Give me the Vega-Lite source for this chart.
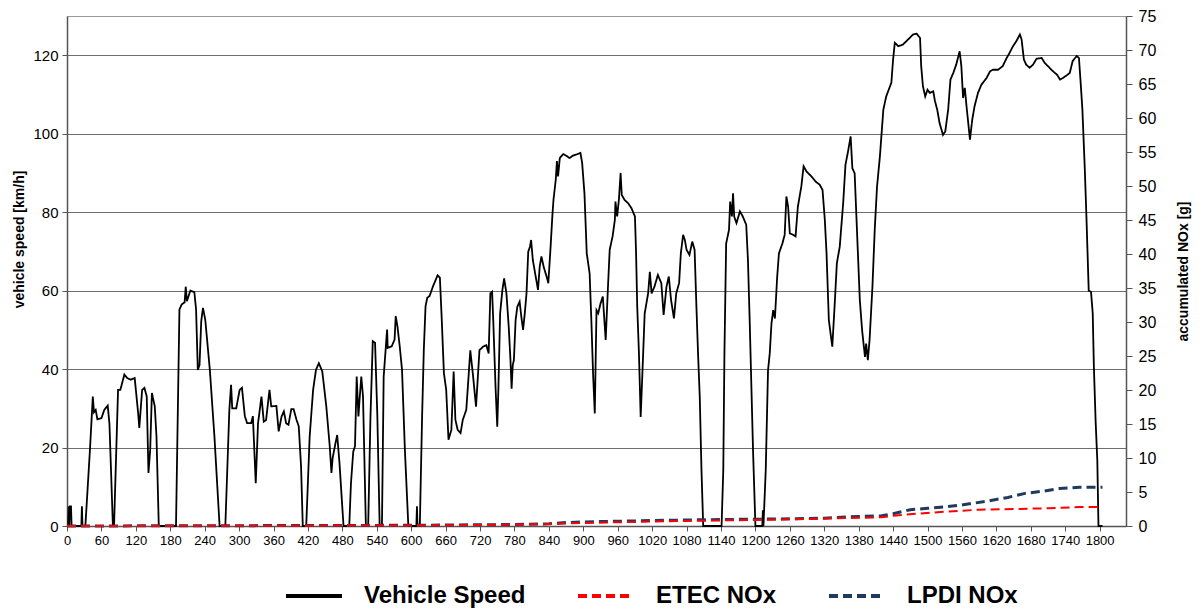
{
  "$schema": "https://vega.github.io/schema/vega-lite/v6.json",
  "autosize": "none",
  "width": 1059,
  "height": 510,
  "padding": {"left": 67, "top": 16, "right": 76, "bottom": 87},
  "background": "white",
  "config": {
    "font": "Liberation Sans",
    "view": {"stroke": "#999999", "strokeWidth": 1},
    "axis": {"labelFont": "Liberation Sans", "titleFont": "Liberation Sans", "labelColor": "#000000", "titleColor": "#000000", "domainColor": "#555555", "tickColor": "#555555"}
  },
  "datasets": {
    "speed": [
      {"t":0,"v":0,"series":"Vehicle Speed"},{"t":2,"v":0,"series":"Vehicle Speed"},{"t":3,"v":5,"series":"Vehicle Speed"},{"t":4,"v":0,"series":"Vehicle Speed"},{"t":5,"v":5,"series":"Vehicle Speed"},{"t":7,"v":5,"series":"Vehicle Speed"},{"t":8,"v":0,"series":"Vehicle Speed"},{"t":25,"v":0,"series":"Vehicle Speed"},{"t":26,"v":5,"series":"Vehicle Speed"},{"t":27,"v":0,"series":"Vehicle Speed"},
      {"t":32,"v":0,"series":"Vehicle Speed"},{"t":40,"v":19.4,"series":"Vehicle Speed"},{"t":45,"v":33,"series":"Vehicle Speed"},{"t":47,"v":29,"series":"Vehicle Speed"},{"t":50,"v":29.6,"series":"Vehicle Speed"},{"t":53,"v":27.2,"series":"Vehicle Speed"},{"t":60,"v":27.5,"series":"Vehicle Speed"},{"t":65,"v":29.6,"series":"Vehicle Speed"},{"t":71,"v":30.7,"series":"Vehicle Speed"},{"t":74,"v":26,"series":"Vehicle Speed"},{"t":80,"v":0,"series":"Vehicle Speed"},
      {"t":82,"v":0,"series":"Vehicle Speed"},{"t":89,"v":34.7,"series":"Vehicle Speed"},{"t":93,"v":34.7,"series":"Vehicle Speed"},{"t":100,"v":38.6,"series":"Vehicle Speed"},{"t":105,"v":37.7,"series":"Vehicle Speed"},{"t":111,"v":37.3,"series":"Vehicle Speed"},{"t":118,"v":37.7,"series":"Vehicle Speed"},{"t":124,"v":28.8,"series":"Vehicle Speed"},{"t":126,"v":25,"series":"Vehicle Speed"},{"t":131,"v":34.7,"series":"Vehicle Speed"},{"t":135,"v":35.2,"series":"Vehicle Speed"},{"t":139,"v":33,"series":"Vehicle Speed"},{"t":142,"v":13.5,"series":"Vehicle Speed"},{"t":145,"v":19.4,"series":"Vehicle Speed"},{"t":148,"v":33.9,"series":"Vehicle Speed"},{"t":153,"v":30.5,"series":"Vehicle Speed"},{"t":156,"v":22.8,"series":"Vehicle Speed"},{"t":160,"v":0,"series":"Vehicle Speed"},
      {"t":190,"v":0,"series":"Vehicle Speed"},{"t":196,"v":55.2,"series":"Vehicle Speed"},{"t":200,"v":56.5,"series":"Vehicle Speed"},{"t":205,"v":57,"series":"Vehicle Speed"},{"t":207,"v":61,"series":"Vehicle Speed"},{"t":209,"v":57.3,"series":"Vehicle Speed"},{"t":215,"v":60,"series":"Vehicle Speed"},{"t":222,"v":59.6,"series":"Vehicle Speed"},{"t":225,"v":55.2,"series":"Vehicle Speed"},{"t":228,"v":39.8,"series":"Vehicle Speed"},{"t":231,"v":41,"series":"Vehicle Speed"},{"t":234,"v":52.2,"series":"Vehicle Speed"},{"t":237,"v":55.6,"series":"Vehicle Speed"},{"t":241,"v":52.6,"series":"Vehicle Speed"},{"t":249,"v":39.8,"series":"Vehicle Speed"},{"t":257,"v":22.8,"series":"Vehicle Speed"},{"t":266,"v":0,"series":"Vehicle Speed"},
      {"t":276,"v":0,"series":"Vehicle Speed"},{"t":283,"v":29.6,"series":"Vehicle Speed"},{"t":286,"v":36,"series":"Vehicle Speed"},{"t":288,"v":30,"series":"Vehicle Speed"},{"t":295,"v":30,"series":"Vehicle Speed"},{"t":301,"v":34.7,"series":"Vehicle Speed"},{"t":305,"v":35.2,"series":"Vehicle Speed"},{"t":310,"v":28,"series":"Vehicle Speed"},{"t":314,"v":26.2,"series":"Vehicle Speed"},{"t":321,"v":26.2,"series":"Vehicle Speed"},{"t":324,"v":28,"series":"Vehicle Speed"},{"t":329,"v":10.9,"series":"Vehicle Speed"},{"t":333,"v":26.2,"series":"Vehicle Speed"},{"t":339,"v":33,"series":"Vehicle Speed"},{"t":343,"v":26.6,"series":"Vehicle Speed"},{"t":347,"v":27,"series":"Vehicle Speed"},{"t":353,"v":34.7,"series":"Vehicle Speed"},{"t":356,"v":30.5,"series":"Vehicle Speed"},{"t":365,"v":30.6,"series":"Vehicle Speed"},{"t":369,"v":24.1,"series":"Vehicle Speed"},{"t":374,"v":27.9,"series":"Vehicle Speed"},{"t":378,"v":29.2,"series":"Vehicle Speed"},{"t":382,"v":26.2,"series":"Vehicle Speed"},{"t":386,"v":25.8,"series":"Vehicle Speed"},{"t":391,"v":29.8,"series":"Vehicle Speed"},{"t":395,"v":29.8,"series":"Vehicle Speed"},{"t":400,"v":27.1,"series":"Vehicle Speed"},{"t":404,"v":25.4,"series":"Vehicle Speed"},{"t":408,"v":15.2,"series":"Vehicle Speed"},{"t":411,"v":0,"series":"Vehicle Speed"},
      {"t":417,"v":0,"series":"Vehicle Speed"},{"t":423,"v":22.8,"series":"Vehicle Speed"},{"t":429,"v":34.7,"series":"Vehicle Speed"},{"t":434,"v":39.8,"series":"Vehicle Speed"},{"t":439,"v":41.5,"series":"Vehicle Speed"},{"t":445,"v":39.4,"series":"Vehicle Speed"},{"t":452,"v":30.5,"series":"Vehicle Speed"},{"t":458,"v":20.3,"series":"Vehicle Speed"},{"t":461,"v":13.5,"series":"Vehicle Speed"},{"t":463,"v":17.3,"series":"Vehicle Speed"},{"t":468,"v":21.1,"series":"Vehicle Speed"},{"t":471,"v":23.2,"series":"Vehicle Speed"},{"t":475,"v":16,"series":"Vehicle Speed"},{"t":482,"v":0,"series":"Vehicle Speed"},
      {"t":492,"v":0,"series":"Vehicle Speed"},{"t":495,"v":10.9,"series":"Vehicle Speed"},{"t":499,"v":19,"series":"Vehicle Speed"},{"t":502,"v":20.3,"series":"Vehicle Speed"},{"t":505,"v":38.1,"series":"Vehicle Speed"},{"t":508,"v":27.9,"series":"Vehicle Speed"},{"t":510,"v":32.2,"series":"Vehicle Speed"},{"t":513,"v":38.1,"series":"Vehicle Speed"},{"t":516,"v":33,"series":"Vehicle Speed"},{"t":521,"v":0,"series":"Vehicle Speed"},{"t":525,"v":0,"series":"Vehicle Speed"},{"t":529,"v":27.9,"series":"Vehicle Speed"},{"t":533,"v":47.1,"series":"Vehicle Speed"},{"t":537,"v":46.7,"series":"Vehicle Speed"},{"t":541,"v":27.9,"series":"Vehicle Speed"},{"t":545,"v":0,"series":"Vehicle Speed"},{"t":549,"v":0,"series":"Vehicle Speed"},
      {"t":552,"v":38.1,"series":"Vehicle Speed"},{"t":555,"v":44.1,"series":"Vehicle Speed"},{"t":558,"v":50.1,"series":"Vehicle Speed"},{"t":559,"v":45.4,"series":"Vehicle Speed"},{"t":566,"v":45.8,"series":"Vehicle Speed"},{"t":571,"v":47.5,"series":"Vehicle Speed"},{"t":573,"v":53.5,"series":"Vehicle Speed"},{"t":576,"v":50.9,"series":"Vehicle Speed"},{"t":580,"v":45.8,"series":"Vehicle Speed"},{"t":584,"v":39.8,"series":"Vehicle Speed"},{"t":589,"v":19.4,"series":"Vehicle Speed"},{"t":595,"v":0,"series":"Vehicle Speed"},{"t":609,"v":0,"series":"Vehicle Speed"},{"t":610,"v":5,"series":"Vehicle Speed"},{"t":611,"v":0,"series":"Vehicle Speed"},{"t":615,"v":0,"series":"Vehicle Speed"},
      {"t":619,"v":27.9,"series":"Vehicle Speed"},{"t":622,"v":45,"series":"Vehicle Speed"},{"t":625,"v":56,"series":"Vehicle Speed"},{"t":628,"v":58.2,"series":"Vehicle Speed"},{"t":632,"v":58.6,"series":"Vehicle Speed"},{"t":638,"v":61.1,"series":"Vehicle Speed"},{"t":646,"v":63.9,"series":"Vehicle Speed"},{"t":650,"v":63.3,"series":"Vehicle Speed"},{"t":653,"v":53.5,"series":"Vehicle Speed"},{"t":657,"v":39,"series":"Vehicle Speed"},{"t":661,"v":34.7,"series":"Vehicle Speed"},{"t":665,"v":22,"series":"Vehicle Speed"},{"t":670,"v":24.5,"series":"Vehicle Speed"},{"t":674,"v":39.4,"series":"Vehicle Speed"},{"t":677,"v":27.1,"series":"Vehicle Speed"},{"t":681,"v":24.5,"series":"Vehicle Speed"},{"t":686,"v":23.7,"series":"Vehicle Speed"},{"t":690,"v":27.1,"series":"Vehicle Speed"},{"t":696,"v":29.6,"series":"Vehicle Speed"},{"t":700,"v":38.1,"series":"Vehicle Speed"},{"t":703,"v":44.8,"series":"Vehicle Speed"},{"t":708,"v":38,"series":"Vehicle Speed"},{"t":713,"v":30.4,"series":"Vehicle Speed"},{"t":719,"v":44.8,"series":"Vehicle Speed"},{"t":725,"v":45.7,"series":"Vehicle Speed"},{"t":731,"v":46.1,"series":"Vehicle Speed"},{"t":735,"v":44,"series":"Vehicle Speed"},{"t":738,"v":59.3,"series":"Vehicle Speed"},{"t":741,"v":59.7,"series":"Vehicle Speed"},{"t":743,"v":52.5,"series":"Vehicle Speed"},{"t":747,"v":35.5,"series":"Vehicle Speed"},{"t":750,"v":25.3,"series":"Vehicle Speed"},{"t":752,"v":35,"series":"Vehicle Speed"},{"t":755,"v":54.2,"series":"Vehicle Speed"},{"t":759,"v":60.2,"series":"Vehicle Speed"},{"t":762,"v":63.1,"series":"Vehicle Speed"},{"t":766,"v":59.3,"series":"Vehicle Speed"},{"t":770,"v":50.8,"series":"Vehicle Speed"},{"t":773,"v":42.3,"series":"Vehicle Speed"},{"t":775,"v":35,"series":"Vehicle Speed"},{"t":777,"v":41,"series":"Vehicle Speed"},{"t":779,"v":42.3,"series":"Vehicle Speed"},{"t":782,"v":52.5,"series":"Vehicle Speed"},{"t":785,"v":55.9,"series":"Vehicle Speed"},{"t":789,"v":57.2,"series":"Vehicle Speed"},{"t":792,"v":53.3,"series":"Vehicle Speed"},{"t":795,"v":50,"series":"Vehicle Speed"},{"t":798,"v":54.2,"series":"Vehicle Speed"},{"t":801,"v":59.3,"series":"Vehicle Speed"},{"t":804,"v":69.9,"series":"Vehicle Speed"},{"t":807,"v":71.2,"series":"Vehicle Speed"},{"t":809,"v":72.9,"series":"Vehicle Speed"},{"t":812,"v":67.8,"series":"Vehicle Speed"},{"t":817,"v":63.6,"series":"Vehicle Speed"},{"t":821,"v":60.2,"series":"Vehicle Speed"},{"t":824,"v":66.1,"series":"Vehicle Speed"},{"t":827,"v":68.7,"series":"Vehicle Speed"},{"t":831,"v":66,"series":"Vehicle Speed"},{"t":836,"v":63.6,"series":"Vehicle Speed"},{"t":839,"v":61.9,"series":"Vehicle Speed"},{"t":843,"v":71.2,"series":"Vehicle Speed"},{"t":846,"v":78.9,"series":"Vehicle Speed"},{"t":848,"v":83.1,"series":"Vehicle Speed"},{"t":852,"v":88.3,"series":"Vehicle Speed"},{"t":854,"v":93,"series":"Vehicle Speed"},{"t":856,"v":89.1,"series":"Vehicle Speed"},{"t":859,"v":93.8,"series":"Vehicle Speed"},{"t":865,"v":94.8,"series":"Vehicle Speed"},{"t":870,"v":94.4,"series":"Vehicle Speed"},{"t":876,"v":93.8,"series":"Vehicle Speed"},{"t":882,"v":94.4,"series":"Vehicle Speed"},{"t":888,"v":94.7,"series":"Vehicle Speed"},{"t":895,"v":95.1,"series":"Vehicle Speed"},{"t":898,"v":92.5,"series":"Vehicle Speed"},{"t":902,"v":84.8,"series":"Vehicle Speed"},{"t":906,"v":69.5,"series":"Vehicle Speed"},{"t":911,"v":64.4,"series":"Vehicle Speed"},{"t":914,"v":52.5,"series":"Vehicle Speed"},{"t":917,"v":38.9,"series":"Vehicle Speed"},{"t":920,"v":28.7,"series":"Vehicle Speed"},{"t":923,"v":55,"series":"Vehicle Speed"},{"t":926,"v":54.2,"series":"Vehicle Speed"},{"t":930,"v":56.7,"series":"Vehicle Speed"},{"t":934,"v":58.5,"series":"Vehicle Speed"},{"t":939,"v":47.4,"series":"Vehicle Speed"},{"t":943,"v":61,"series":"Vehicle Speed"},{"t":946,"v":70.4,"series":"Vehicle Speed"},{"t":951,"v":73.8,"series":"Vehicle Speed"},{"t":955,"v":78,"series":"Vehicle Speed"},{"t":956,"v":82.7,"series":"Vehicle Speed"},{"t":959,"v":78.9,"series":"Vehicle Speed"},{"t":962,"v":83.1,"series":"Vehicle Speed"},{"t":965,"v":90,"series":"Vehicle Speed"},{"t":967,"v":84.4,"series":"Vehicle Speed"},{"t":972,"v":83.1,"series":"Vehicle Speed"},{"t":978,"v":82.3,"series":"Vehicle Speed"},{"t":984,"v":81,"series":"Vehicle Speed"},{"t":990,"v":78.9,"series":"Vehicle Speed"},{"t":992,"v":69.5,"series":"Vehicle Speed"},{"t":994,"v":55.9,"series":"Vehicle Speed"},{"t":997,"v":44,"series":"Vehicle Speed"},{"t":1000,"v":27.8,"series":"Vehicle Speed"},{"t":1003,"v":38.9,"series":"Vehicle Speed"},{"t":1007,"v":54.2,"series":"Vehicle Speed"},{"t":1013,"v":59.3,"series":"Vehicle Speed"},{"t":1016,"v":64.8,"series":"Vehicle Speed"},{"t":1019,"v":59.3,"series":"Vehicle Speed"},{"t":1024,"v":61,"series":"Vehicle Speed"},{"t":1030,"v":64,"series":"Vehicle Speed"},{"t":1036,"v":61.9,"series":"Vehicle Speed"},{"t":1040,"v":53.8,"series":"Vehicle Speed"},{"t":1045,"v":61,"series":"Vehicle Speed"},{"t":1049,"v":63.6,"series":"Vehicle Speed"},{"t":1053,"v":57.6,"series":"Vehicle Speed"},{"t":1058,"v":52.9,"series":"Vehicle Speed"},{"t":1062,"v":59.3,"series":"Vehicle Speed"},{"t":1067,"v":61.9,"series":"Vehicle Speed"},{"t":1070,"v":69.5,"series":"Vehicle Speed"},{"t":1074,"v":74.2,"series":"Vehicle Speed"},{"t":1077,"v":72.9,"series":"Vehicle Speed"},{"t":1080,"v":70.4,"series":"Vehicle Speed"},{"t":1085,"v":69.1,"series":"Vehicle Speed"},{"t":1090,"v":72.5,"series":"Vehicle Speed"},{"t":1094,"v":70.4,"series":"Vehicle Speed"},{"t":1097,"v":56.7,"series":"Vehicle Speed"},{"t":1100,"v":44,"series":"Vehicle Speed"},{"t":1103,"v":32.9,"series":"Vehicle Speed"},{"t":1106,"v":14.2,"series":"Vehicle Speed"},{"t":1109,"v":0,"series":"Vehicle Speed"},
      {"t":1141,"v":0,"series":"Vehicle Speed"},{"t":1144,"v":14.2,"series":"Vehicle Speed"},{"t":1146,"v":44,"series":"Vehicle Speed"},{"t":1149,"v":72,"series":"Vehicle Speed"},{"t":1154,"v":75.5,"series":"Vehicle Speed"},{"t":1156,"v":82.7,"series":"Vehicle Speed"},{"t":1159,"v":78.9,"series":"Vehicle Speed"},{"t":1161,"v":84.8,"series":"Vehicle Speed"},{"t":1163,"v":78.9,"series":"Vehicle Speed"},{"t":1167,"v":77.2,"series":"Vehicle Speed"},{"t":1173,"v":80.2,"series":"Vehicle Speed"},{"t":1178,"v":78.9,"series":"Vehicle Speed"},{"t":1184,"v":76.8,"series":"Vehicle Speed"},{"t":1187,"v":67.8,"series":"Vehicle Speed"},{"t":1190,"v":52.5,"series":"Vehicle Speed"},{"t":1193,"v":35.5,"series":"Vehicle Speed"},{"t":1196,"v":18.6,"series":"Vehicle Speed"},{"t":1200,"v":0,"series":"Vehicle Speed"},{"t":1212,"v":0,"series":"Vehicle Speed"},{"t":1213,"v":4,"series":"Vehicle Speed"},{"t":1214,"v":0,"series":"Vehicle Speed"},{"t":1218,"v":14.2,"series":"Vehicle Speed"},{"t":1222,"v":39.7,"series":"Vehicle Speed"},{"t":1225,"v":44,"series":"Vehicle Speed"},{"t":1228,"v":51.6,"series":"Vehicle Speed"},{"t":1231,"v":55,"series":"Vehicle Speed"},{"t":1234,"v":52.9,"series":"Vehicle Speed"},{"t":1238,"v":63.6,"series":"Vehicle Speed"},{"t":1241,"v":69.5,"series":"Vehicle Speed"},{"t":1247,"v":72,"series":"Vehicle Speed"},{"t":1251,"v":74.2,"series":"Vehicle Speed"},{"t":1254,"v":84,"series":"Vehicle Speed"},{"t":1257,"v":81.4,"series":"Vehicle Speed"},{"t":1260,"v":74.6,"series":"Vehicle Speed"},{"t":1266,"v":74.2,"series":"Vehicle Speed"},{"t":1270,"v":73.8,"series":"Vehicle Speed"},{"t":1274,"v":81.4,"series":"Vehicle Speed"},{"t":1280,"v":86.5,"series":"Vehicle Speed"},{"t":1284,"v":91.7,"series":"Vehicle Speed"},{"t":1289,"v":90.4,"series":"Vehicle Speed"},{"t":1295,"v":89.5,"series":"Vehicle Speed"},{"t":1300,"v":88.7,"series":"Vehicle Speed"},{"t":1305,"v":87.8,"series":"Vehicle Speed"},{"t":1312,"v":87,"series":"Vehicle Speed"},{"t":1317,"v":85.7,"series":"Vehicle Speed"},{"t":1321,"v":78,"series":"Vehicle Speed"},{"t":1324,"v":69.5,"series":"Vehicle Speed"},{"t":1328,"v":52.5,"series":"Vehicle Speed"},{"t":1334,"v":45.7,"series":"Vehicle Speed"},{"t":1338,"v":55.9,"series":"Vehicle Speed"},{"t":1342,"v":67,"series":"Vehicle Speed"},{"t":1347,"v":71.2,"series":"Vehicle Speed"},{"t":1353,"v":82.3,"series":"Vehicle Speed"},{"t":1357,"v":92.1,"series":"Vehicle Speed"},{"t":1361,"v":95.1,"series":"Vehicle Speed"},{"t":1366,"v":99.3,"series":"Vehicle Speed"},{"t":1369,"v":91.2,"series":"Vehicle Speed"},{"t":1373,"v":89.9,"series":"Vehicle Speed"},{"t":1377,"v":75.5,"series":"Vehicle Speed"},{"t":1382,"v":57.6,"series":"Vehicle Speed"},{"t":1386,"v":49.9,"series":"Vehicle Speed"},{"t":1391,"v":43.1,"series":"Vehicle Speed"},{"t":1393,"v":46.5,"series":"Vehicle Speed"},{"t":1396,"v":42.3,"series":"Vehicle Speed"},{"t":1399,"v":47.4,"series":"Vehicle Speed"},{"t":1404,"v":61,"series":"Vehicle Speed"},{"t":1408,"v":75.5,"series":"Vehicle Speed"},{"t":1412,"v":86.5,"series":"Vehicle Speed"},{"t":1417,"v":94.2,"series":"Vehicle Speed"},{"t":1423,"v":106.1,"series":"Vehicle Speed"},{"t":1428,"v":109.5,"series":"Vehicle Speed"},{"t":1437,"v":113,"series":"Vehicle Speed"},{"t":1440,"v":118.9,"series":"Vehicle Speed"},{"t":1443,"v":123.2,"series":"Vehicle Speed"},{"t":1449,"v":122.3,"series":"Vehicle Speed"},{"t":1457,"v":122.7,"series":"Vehicle Speed"},{"t":1466,"v":124,"series":"Vehicle Speed"},{"t":1475,"v":125.3,"series":"Vehicle Speed"},{"t":1481,"v":125.5,"series":"Vehicle Speed"},{"t":1487,"v":124.4,"series":"Vehicle Speed"},{"t":1489,"v":117.2,"series":"Vehicle Speed"},{"t":1492,"v":112.1,"series":"Vehicle Speed"},{"t":1496,"v":109.5,"series":"Vehicle Speed"},{"t":1500,"v":111.2,"series":"Vehicle Speed"},{"t":1504,"v":110.4,"series":"Vehicle Speed"},{"t":1510,"v":110.8,"series":"Vehicle Speed"},{"t":1513,"v":108.3,"series":"Vehicle Speed"},{"t":1517,"v":106.1,"series":"Vehicle Speed"},{"t":1521,"v":102.7,"series":"Vehicle Speed"},{"t":1527,"v":99.7,"series":"Vehicle Speed"},{"t":1531,"v":100.6,"series":"Vehicle Speed"},{"t":1536,"v":106.1,"series":"Vehicle Speed"},{"t":1540,"v":113.8,"series":"Vehicle Speed"},{"t":1545,"v":115.5,"series":"Vehicle Speed"},{"t":1550,"v":117.6,"series":"Vehicle Speed"},{"t":1556,"v":121,"series":"Vehicle Speed"},{"t":1559,"v":117.2,"series":"Vehicle Speed"},{"t":1562,"v":109.1,"series":"Vehicle Speed"},{"t":1565,"v":111.7,"series":"Vehicle Speed"},{"t":1568,"v":107,"series":"Vehicle Speed"},{"t":1574,"v":98.5,"series":"Vehicle Speed"},{"t":1578,"v":103.6,"series":"Vehicle Speed"},{"t":1582,"v":107,"series":"Vehicle Speed"},{"t":1588,"v":110.4,"series":"Vehicle Speed"},{"t":1594,"v":112.5,"series":"Vehicle Speed"},{"t":1603,"v":114.2,"series":"Vehicle Speed"},{"t":1609,"v":115.9,"series":"Vehicle Speed"},{"t":1614,"v":116.3,"series":"Vehicle Speed"},{"t":1623,"v":116.3,"series":"Vehicle Speed"},{"t":1631,"v":117.2,"series":"Vehicle Speed"},{"t":1638,"v":119.3,"series":"Vehicle Speed"},{"t":1643,"v":120.6,"series":"Vehicle Speed"},{"t":1649,"v":122.3,"series":"Vehicle Speed"},{"t":1655,"v":123.6,"series":"Vehicle Speed"},{"t":1661,"v":125.3,"series":"Vehicle Speed"},{"t":1664,"v":124,"series":"Vehicle Speed"},{"t":1668,"v":118.9,"series":"Vehicle Speed"},{"t":1672,"v":117.6,"series":"Vehicle Speed"},{"t":1678,"v":116.8,"series":"Vehicle Speed"},{"t":1684,"v":117.6,"series":"Vehicle Speed"},{"t":1690,"v":119.1,"series":"Vehicle Speed"},{"t":1699,"v":119.3,"series":"Vehicle Speed"},{"t":1704,"v":118.1,"series":"Vehicle Speed"},{"t":1710,"v":117.2,"series":"Vehicle Speed"},{"t":1716,"v":116.3,"series":"Vehicle Speed"},{"t":1722,"v":115.5,"series":"Vehicle Speed"},{"t":1726,"v":115,"series":"Vehicle Speed"},{"t":1731,"v":113.8,"series":"Vehicle Speed"},{"t":1736,"v":114.2,"series":"Vehicle Speed"},{"t":1742,"v":114.8,"series":"Vehicle Speed"},{"t":1748,"v":115.5,"series":"Vehicle Speed"},{"t":1753,"v":118.5,"series":"Vehicle Speed"},{"t":1760,"v":119.8,"series":"Vehicle Speed"},{"t":1764,"v":119.3,"series":"Vehicle Speed"},{"t":1767,"v":112.9,"series":"Vehicle Speed"},{"t":1770,"v":106.1,"series":"Vehicle Speed"},{"t":1774,"v":91.7,"series":"Vehicle Speed"},{"t":1777,"v":78.9,"series":"Vehicle Speed"},{"t":1781,"v":60,"series":"Vehicle Speed"},{"t":1785,"v":59.7,"series":"Vehicle Speed"},{"t":1788,"v":54.2,"series":"Vehicle Speed"},{"t":1790,"v":40.6,"series":"Vehicle Speed"},{"t":1793,"v":26.9,"series":"Vehicle Speed"},{"t":1796,"v":16.7,"series":"Vehicle Speed"},{"t":1798,"v":0,"series":"Vehicle Speed"},{"t":1805,"v":0,"series":"Vehicle Speed"}
    ],
    "nox": [
      {"t":0,"v":0,"series":"LPDI NOx"},{"t":120,"v":0.02,"series":"LPDI NOx"},{"t":240,"v":0.04,"series":"LPDI NOx"},{"t":360,"v":0.06,"series":"LPDI NOx"},{"t":480,"v":0.08,"series":"LPDI NOx"},{"t":600,"v":0.1,"series":"LPDI NOx"},{"t":720,"v":0.18,"series":"LPDI NOx"},{"t":780,"v":0.22,"series":"LPDI NOx"},{"t":840,"v":0.32,"series":"LPDI NOx"},{"t":870,"v":0.5,"series":"LPDI NOx"},{"t":900,"v":0.6,"series":"LPDI NOx"},{"t":960,"v":0.7,"series":"LPDI NOx"},{"t":1020,"v":0.8,"series":"LPDI NOx"},{"t":1080,"v":0.88,"series":"LPDI NOx"},{"t":1140,"v":0.95,"series":"LPDI NOx"},{"t":1200,"v":1.0,"series":"LPDI NOx"},{"t":1260,"v":1.05,"series":"LPDI NOx"},{"t":1320,"v":1.15,"series":"LPDI NOx"},{"t":1380,"v":1.4,"series":"LPDI NOx"},{"t":1420,"v":1.5,"series":"LPDI NOx"},{"t":1440,"v":1.8,"series":"LPDI NOx"},{"t":1470,"v":2.4,"series":"LPDI NOx"},{"t":1500,"v":2.6,"series":"LPDI NOx"},{"t":1530,"v":2.8,"series":"LPDI NOx"},{"t":1560,"v":3.1,"series":"LPDI NOx"},{"t":1600,"v":3.6,"series":"LPDI NOx"},{"t":1640,"v":4.2,"series":"LPDI NOx"},{"t":1670,"v":4.8,"series":"LPDI NOx"},{"t":1700,"v":5.1,"series":"LPDI NOx"},{"t":1730,"v":5.5,"series":"LPDI NOx"},{"t":1765,"v":5.7,"series":"LPDI NOx"},{"t":1805,"v":5.7,"series":"LPDI NOx"},
      {"t":0,"v":0,"series":"ETEC NOx"},{"t":300,"v":0.03,"series":"ETEC NOx"},{"t":600,"v":0.08,"series":"ETEC NOx"},{"t":720,"v":0.15,"series":"ETEC NOx"},{"t":840,"v":0.28,"series":"ETEC NOx"},{"t":900,"v":0.45,"series":"ETEC NOx"},{"t":960,"v":0.55,"series":"ETEC NOx"},{"t":1020,"v":0.65,"series":"ETEC NOx"},{"t":1080,"v":0.75,"series":"ETEC NOx"},{"t":1140,"v":0.82,"series":"ETEC NOx"},{"t":1200,"v":0.9,"series":"ETEC NOx"},{"t":1260,"v":0.98,"series":"ETEC NOx"},{"t":1320,"v":1.1,"series":"ETEC NOx"},{"t":1380,"v":1.2,"series":"ETEC NOx"},{"t":1420,"v":1.3,"series":"ETEC NOx"},{"t":1440,"v":1.5,"series":"ETEC NOx"},{"t":1480,"v":1.8,"series":"ETEC NOx"},{"t":1530,"v":2.1,"series":"ETEC NOx"},{"t":1590,"v":2.4,"series":"ETEC NOx"},{"t":1650,"v":2.5,"series":"ETEC NOx"},{"t":1710,"v":2.6,"series":"ETEC NOx"},{"t":1765,"v":2.8,"series":"ETEC NOx"},{"t":1800,"v":2.8,"series":"ETEC NOx"}
    ]
  },
  "encoding": {
    "x": {"field": "t", "type": "quantitative", "scale": {"domain": [0, 1846], "nice": false, "zero": false},
      "axis": {"title": null, "format": "d", "values": [0,60,120,180,240,300,360,420,480,540,600,660,720,780,840,900,960,1020,1080,1140,1200,1260,1320,1380,1440,1500,1560,1620,1680,1740,1800], "labelFontSize": 13, "labelOverlap": false, "labelFlush": false, "grid": false, "tickSize": 5, "domainWidth": 1.5, "labelPadding": 3}}
  },
  "layer": [
    {
      "data": {"name": "speed"},
      "mark": {"type": "line", "strokeWidth": 1.8, "interpolate": "linear"},
      "encoding": {
        "y": {"field": "v", "type": "quantitative", "scale": {"domain": [0, 130], "nice": false},
          "axis": {"orient": "left", "title": "vehicle speed [km/h]", "titleFontSize": 14, "titleFontWeight": "bold", "titleX": -41, "titleY": 223, "values": [0,20,40,60,80,100,120], "labelFontSize": 15, "grid": true, "gridColor": "#6e6e6e", "gridWidth": 1, "tickSize": 5, "domainWidth": 1.5, "labelPadding": 4}},
        "color": {"field": "series", "type": "nominal", "scale": {"domain": ["Vehicle Speed", "ETEC NOx", "LPDI NOx"], "range": ["#000000", "#ff0000", "#1f3a5f"]},
          "legend": {"title": null, "orient": "none", "legendX": 217, "legendY": 550, "direction": "horizontal", "symbolType": "stroke", "symbolSize": 3136, "symbolStrokeWidth": 4, "labelFontSize": 24, "labelFontWeight": "bold", "labelFont": "Liberation Sans", "labelColor": "#000000", "labelOffset": 20, "labelLimit": 400, "columnPadding": 44}},
        "strokeDash": {"field": "series", "type": "nominal", "scale": {"domain": ["Vehicle Speed", "ETEC NOx", "LPDI NOx"], "range": [[1, 0], [9, 5], [9, 5]]}}
      }
    },
    {
      "data": {"name": "nox"},
      "encoding": {
        "y": {"field": "v", "type": "quantitative", "scale": {"domain": [0, 75], "nice": false},
          "axis": {"orient": "right", "title": "accumulated NOx [g]", "titleAngle": 270, "titleFontSize": 14, "titleFontWeight": "bold", "titleX": 64, "values": [0,5,10,15,20,25,30,35,40,45,50,55,60,65,70,75], "labelFontSize": 16, "grid": false, "tickSize": 6, "domainWidth": 1.5, "labelPadding": 6}},
        "color": {"field": "series", "type": "nominal"},
        "strokeDash": {"field": "series", "type": "nominal"}
      },
      "layer": [
        {"transform": [{"filter": "datum.series === 'LPDI NOx'"}], "mark": {"type": "line", "strokeWidth": 3}},
        {"transform": [{"filter": "datum.series === 'ETEC NOx'"}], "mark": {"type": "line", "strokeWidth": 2}}
      ]
    }
  ],
  "resolve": {"scale": {"y": "independent"}}
}
